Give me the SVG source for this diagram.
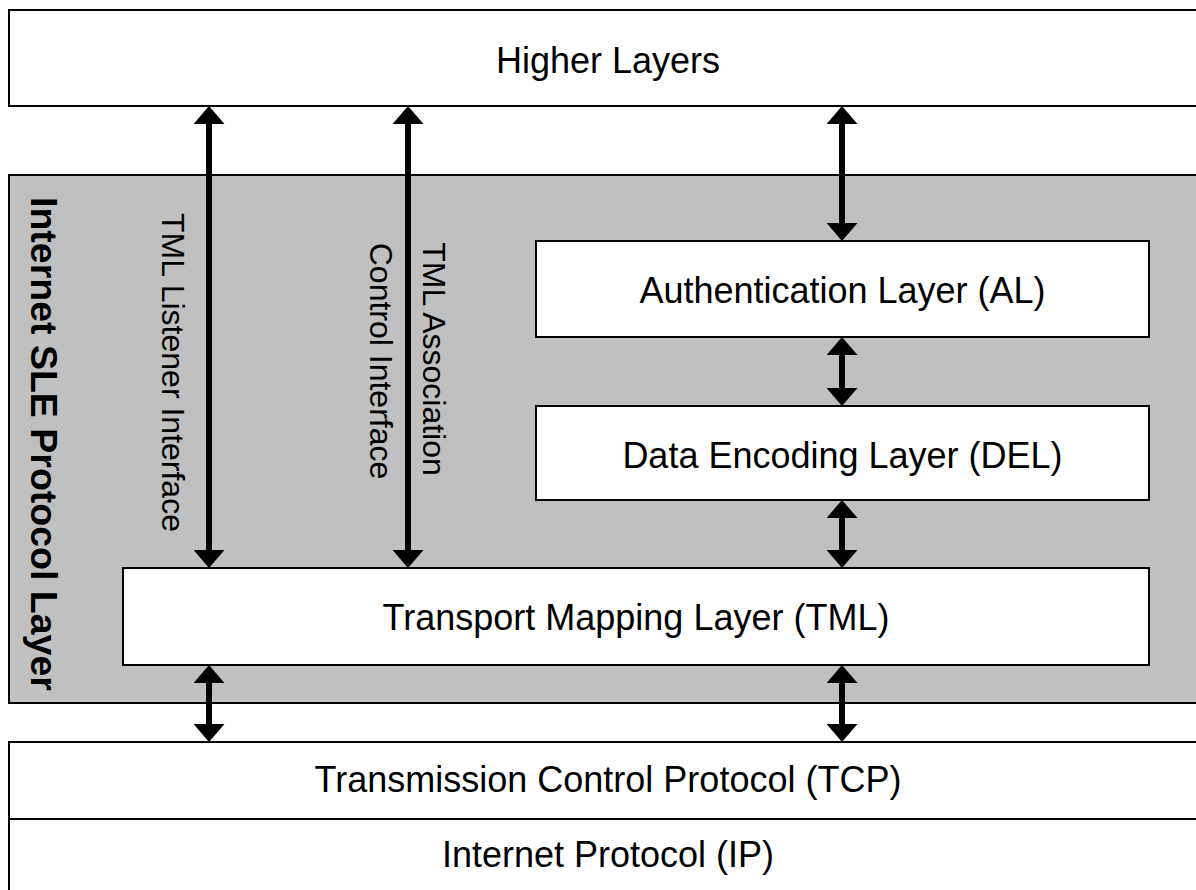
<svg xmlns="http://www.w3.org/2000/svg" width="1196" height="890" viewBox="0 0 1196 890">
  <style>
    .box { fill: #ffffff; stroke: #000000; stroke-width: 2; }
    .gray { fill: #c0c0c0; stroke: #000000; stroke-width: 2; }
    .lbl { font-family: "Liberation Sans", Arial, sans-serif; font-size: 36px; fill: #000000; text-anchor: middle; }
    .vlbl { font-family: "Liberation Sans", Arial, sans-serif; font-size: 32px; fill: #000000; }
    .blbl { font-family: "Liberation Sans", Arial, sans-serif; font-size: 37.5px; font-weight: bold; fill: #000000; }
    .arr { stroke: #000000; stroke-width: 6; fill: none; marker-start: url(#ah); marker-end: url(#ah); }
  </style>
  <defs>
    <marker id="ah" markerUnits="userSpaceOnUse" viewBox="0 0 18 31" markerWidth="18" markerHeight="31" refX="8" refY="15.5" orient="auto-start-reverse">
      <path d="M0,0 L18,15.5 L0,31 Z" fill="#000000"/>
    </marker>
  </defs>
  <rect width="1196" height="890" fill="#ffffff"/>

  <g id="sle-layer">
    <rect class="gray" x="9" y="175" width="1200" height="528"/>
    <text class="blbl" transform="translate(31,197) rotate(90)">Internet SLE Protocol Layer</text>
  </g>

  <g id="higher-layers">
    <rect class="box" x="9" y="10" width="1200" height="96"/>
    <text class="lbl" x="608" y="73">Higher Layers</text>
  </g>

  <g id="al">
    <rect class="box" x="536" y="241" width="613" height="96"/>
    <text class="lbl" x="842.5" y="303">Authentication Layer (AL)</text>
  </g>

  <g id="del">
    <rect class="box" x="536" y="406" width="613" height="94"/>
    <text class="lbl" x="842.5" y="468">Data Encoding Layer (DEL)</text>
  </g>

  <g id="tml">
    <rect class="box" x="123" y="568" width="1026" height="97"/>
    <text class="lbl" x="636" y="630">Transport Mapping Layer (TML)</text>
  </g>

  <g id="tcp">
    <rect class="box" x="9" y="742" width="1200" height="77"/>
    <text class="lbl" x="608" y="792">Transmission Control Protocol (TCP)</text>
  </g>

  <g id="ip">
    <rect class="box" x="9" y="819" width="1200" height="80"/>
    <text class="lbl" x="608" y="867">Internet Protocol (IP)</text>
  </g>

  <g id="labels">
    <text class="vlbl" transform="translate(162,213) rotate(90)">TML Listener Interface</text>
    <text class="vlbl" text-anchor="middle" transform="translate(423,359) rotate(90)">TML Association</text>
    <text class="vlbl" text-anchor="middle" transform="translate(370,361) rotate(90)">Control Interface</text>
  </g>

  <g id="connectors">
    <line class="arr" x1="209" y1="116" x2="209" y2="558"/>
    <line class="arr" x1="408" y1="116" x2="408" y2="558"/>
    <line class="arr" x1="842" y1="116" x2="842" y2="231"/>
    <line class="arr" x1="842" y1="347" x2="842" y2="396"/>
    <line class="arr" x1="842" y1="510" x2="842" y2="558"/>
    <line class="arr" x1="209" y1="675" x2="209" y2="732"/>
    <line class="arr" x1="842" y1="675" x2="842" y2="732"/>
  </g>
</svg>
